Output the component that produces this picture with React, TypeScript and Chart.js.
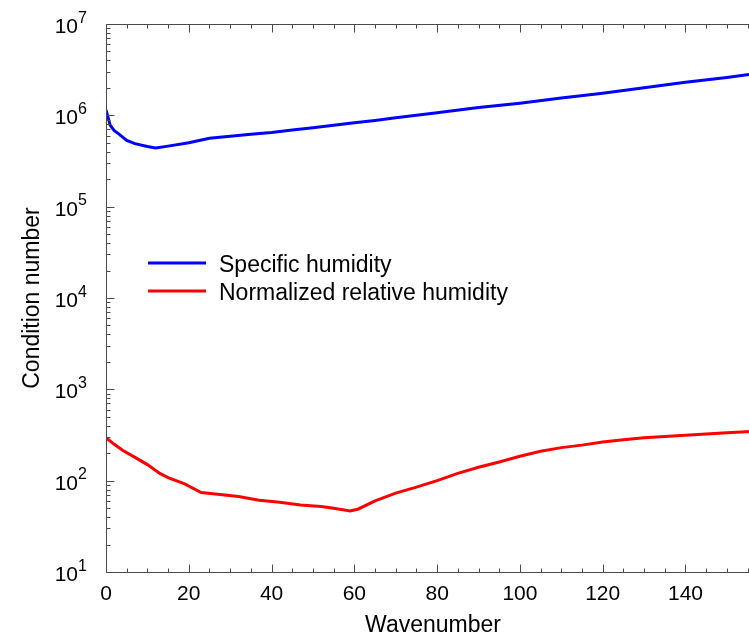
import React, { useEffect, useRef } from 'react';
import { Chart, registerables } from 'chart.js';

Chart.register(...registerables);

// ---- data ----
const blueX = [0, 1, 2, 3, 5, 7, 10, 12, 15, 20, 25, 30, 35, 40, 45, 50, 55, 60, 65, 70, 80, 90, 100, 110, 120, 130, 140, 150, 158];
const blueY = [1.15e6, 7.8e5, 6.8e5, 6.3e5, 5.3e5, 4.9e5, 4.55e5, 4.4e5, 4.6e5, 5.0e5, 5.6e5, 5.9e5, 6.2e5, 6.5e5, 6.9e5, 7.3e5, 7.8e5, 8.3e5, 8.8e5, 9.4e5, 1.07e6, 1.22e6, 1.36e6, 1.55e6, 1.75e6, 2.0e6, 2.3e6, 2.6e6, 2.9e6];

const redX = [0, 2, 4, 7, 10, 13, 15, 19, 23, 27, 32, 37, 42, 47, 52, 55, 59, 61, 65, 70, 75, 80, 85, 90, 95, 100, 105, 110, 115, 120, 125, 130, 135, 140, 145, 150, 158];
const redY = [295, 250, 215, 180, 150, 120, 108, 92, 74, 71, 67, 61, 58, 54, 52, 50, 46.5, 49, 60, 73, 85, 100, 120, 140, 160, 185, 210, 230, 245, 265, 280, 295, 305, 315, 325, 335, 350];

const xMajorTicks = [0, 20, 40, 60, 80, 100, 120, 140];
const xMinorStep = 5;
const yDecades = [1, 2, 3, 4, 5, 6, 7];
const seriesLabels = ['Specific humidity', 'Normalized relative humidity'];
const seriesColors = ['#0000ff', '#ff0000'];
const xTitle = 'Wavenumber';
const yTitle = 'Condition number';

const FONT = '"Liberation Sans", Arial, Helvetica, sans-serif';
const X_MAX = 158;

const axesPlugin = {
  id: 'customAxes',
  afterDraw(chart: any) {
    const { ctx, chartArea: a, scales } = chart;
    const xs = scales.x;
    const ys = scales.y;
    ctx.save();
    // frame
    ctx.strokeStyle = '#4a4a4a';
    ctx.lineWidth = 1;
    const L = Math.round(a.left) + 0.5;
    const R = Math.round(a.right) - 0.5;
    const T = Math.round(a.top) + 0.5;
    const B = Math.round(a.bottom) + 0.5;
    ctx.beginPath();
    ctx.moveTo(L, T);
    ctx.lineTo(R, T);
    ctx.lineTo(R, B);
    ctx.lineTo(L, B);
    ctx.closePath();
    ctx.stroke();

    // x ticks
    ctx.beginPath();
    for (let v = 0; v <= X_MAX; v += xMinorStep) {
      const px = Math.round(xs.getPixelForValue(v)) + 0.5;
      const len = xMajorTicks.includes(v) ? 8 : 4;
      ctx.moveTo(px, B);
      ctx.lineTo(px, B - len);
      ctx.moveTo(px, T);
      ctx.lineTo(px, T + len);
    }
    // y ticks
    for (let d = yDecades[0]; d <= yDecades[yDecades.length - 1]; d++) {
      for (let m = 1; m <= 9; m++) {
        const v = m * Math.pow(10, d);
        if (v > Math.pow(10, yDecades[yDecades.length - 1])) break;
        const py = Math.round(ys.getPixelForValue(v)) + 0.5;
        const len = m === 1 ? 8 : 4;
        ctx.moveTo(L, py);
        ctx.lineTo(L + len, py);
        ctx.moveTo(R, py);
        ctx.lineTo(R - len, py);
      }
    }
    ctx.stroke();

    ctx.fillStyle = '#000';
    // x tick labels
    ctx.font = `21px ${FONT}`;
    ctx.textAlign = 'center';
    ctx.textBaseline = 'alphabetic';
    for (const v of xMajorTicks) {
      ctx.fillText(String(v), xs.getPixelForValue(v), a.bottom + 28);
    }
    // y tick labels 10^n
    for (const d of yDecades) {
      const py = ys.getPixelForValue(Math.pow(10, d));
      ctx.font = `21px ${FONT}`;
      ctx.textAlign = 'right';
      ctx.fillText('10', a.left - 28, py + 9);
      ctx.font = `16px ${FONT}`;
      ctx.textAlign = 'left';
      ctx.fillText(String(d), a.left - 28, py - 1.5);
    }
    // axis titles
    ctx.font = `23px ${FONT}`;
    ctx.textAlign = 'center';
    ctx.fillText(xTitle, (a.left + a.right) / 2, a.bottom + 60);
    ctx.save();
    ctx.translate(39, (a.top + a.bottom) / 2);
    ctx.rotate(-Math.PI / 2);
    ctx.fillText(yTitle, 0, 0);
    ctx.restore();

    // legend
    const legendY = [263, 291];
    ctx.lineWidth = 3;
    ctx.font = `23px ${FONT}`;
    ctx.textAlign = 'left';
    seriesLabels.forEach((lab, i) => {
      ctx.strokeStyle = seriesColors[i];
      ctx.beginPath();
      ctx.moveTo(148, legendY[i]);
      ctx.lineTo(206, legendY[i]);
      ctx.stroke();
      ctx.fillStyle = '#000';
      ctx.fillText(lab, 219, legendY[i] + 8.5);
    });
    ctx.restore();
  },
};

export default function App() {
  const ref = useRef<HTMLCanvasElement | null>(null);
  useEffect(() => {
    if (!ref.current) return;
    const chart = new Chart(ref.current, {
      type: 'line',
      data: {
        datasets: [
          {
            label: seriesLabels[0],
            data: blueX.map((x, i) => ({ x, y: blueY[i] })),
            borderColor: seriesColors[0],
            borderWidth: 3,
            pointRadius: 0,
            fill: false,
            tension: 0,
          },
          {
            label: seriesLabels[1],
            data: redX.map((x, i) => ({ x, y: redY[i] })),
            borderColor: seriesColors[1],
            borderWidth: 3,
            pointRadius: 0,
            fill: false,
            tension: 0,
          },
        ],
      },
      options: {
        animation: false,
        responsive: false,
        devicePixelRatio: 1,
        layout: { padding: { left: 106, top: 24, right: 0, bottom: 63 } },
        plugins: { legend: { display: false }, tooltip: { enabled: false } },
        scales: {
          x: { type: 'linear', min: 0, max: X_MAX, display: false },
          y: { type: 'logarithmic', min: 10, max: 1e7, display: false },
        },
      },
      plugins: [axesPlugin],
    });
    return () => chart.destroy();
  }, []);
  return (
    <div style={{ position: 'fixed', left: 0, top: 0, width: 749, height: 635, overflow: 'hidden', background: '#fff' }}>
      <canvas ref={ref} width={760} height={635} style={{ display: 'block' }} />
    </div>
  );
}
